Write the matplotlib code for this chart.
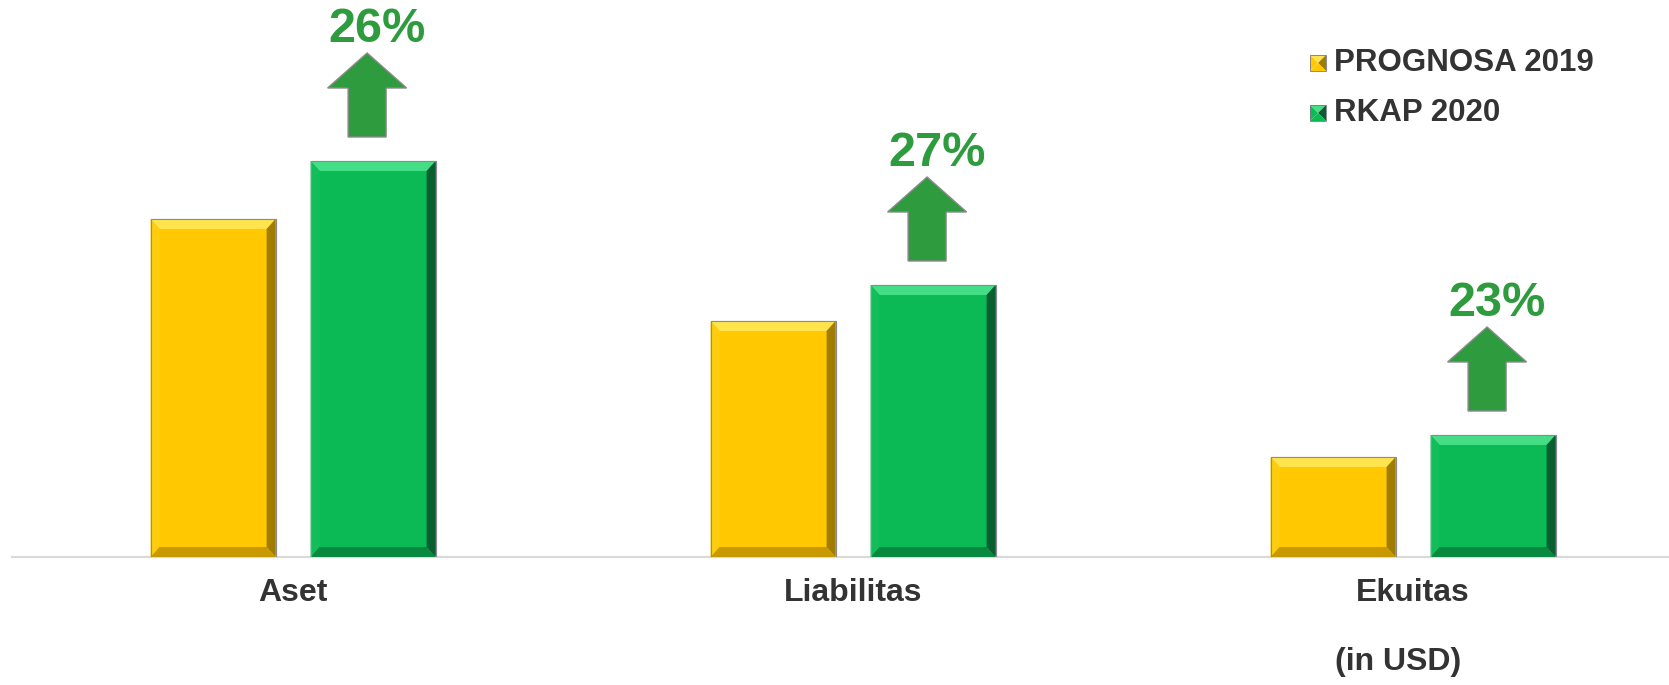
import numpy as np
import matplotlib.pyplot as plt
from matplotlib.patches import Polygon, Rectangle

categories = ['Aset', 'Liabilitas', 'Ekuitas']
series_names = ['PROGNOSA 2019', 'RKAP 2020']
prognosa_2019 = [338, 236, 100]
rkap_2020 = [396, 272, 122]
growth_labels = ['26%', '27%', '23%']

YELLOW = '#FFC800'
GREEN = '#0BBA55'
ARROW_GREEN = '#2E9B3F'
TEXT = '#333333'

plt.rcParams['font.family'] = ['Liberation Sans', 'DejaVu Sans']

W, H = 1669, 685
fig = plt.figure(figsize=(W / 100, H / 100), dpi=100)
ax = fig.add_axes((12 / W, 1 - 557 / H, (W - 12) / W, 557 / H))

x = np.arange(len(categories))
bw = 125 / 560
off = 80 / 560

bars1 = ax.bar(x - off, prognosa_2019, bw, color=YELLOW, edgecolor='#8c8c8c', linewidth=0.8, zorder=2)
bars2 = ax.bar(x + off, rkap_2020, bw, color=GREEN, edgecolor='#8c8c8c', linewidth=0.8, zorder=2)

# fake the bevelled look with four trapezoids per bar
bx, by = 9 / 560, 10
shades = {YELLOW: ('#FFE44D', '#FFCD0D', '#A07C00', '#C89A00'),
          GREEN: ('#44DE86', '#10BE5A', '#0A5F30', '#07893F')}
for bars, col in ((bars1, YELLOW), (bars2, GREEN)):
    top_c, left_c, right_c, bot_c = shades[col]
    for b in bars:
        x0, w, h = b.get_x(), b.get_width(), b.get_height()
        x1 = x0 + w
        faces = [
            ([(x0, h), (x1, h), (x1 - bx, h - by), (x0 + bx, h - by)], top_c),
            ([(x0, h), (x0 + bx, h - by), (x0 + bx, by), (x0, 0)], left_c),
            ([(x1, h), (x1, 0), (x1 - bx, by), (x1 - bx, h - by)], right_c),
            ([(x0, 0), (x1, 0), (x1 - bx, by), (x0 + bx, by)], bot_c),
        ]
        for pts, c in faces:
            ax.add_patch(Polygon(pts, closed=True, facecolor=c, edgecolor='none', zorder=3))
        ax.add_patch(Rectangle((x0, 0), w, h, fill=False, edgecolor='#8c8c8c', linewidth=0.8, zorder=4))

# growth arrows and percentages above the RKAP bars
for xi, v, lab in zip(x + off, rkap_2020, growth_labels):
    ax.arrow(xi - 6 / 560, v + 24, 0, 84, width=38 / 560, head_width=79 / 560, head_length=35,
             length_includes_head=True, facecolor=ARROW_GREEN, edgecolor='#8a8a8a', linewidth=1, zorder=3)
    ax.text(xi + 4 / 560, v + 131, lab, ha='center', va='center', fontsize=35,
            fontweight='bold', color=ARROW_GREEN)

for xi, name in zip(x, categories):
    ax.text(xi, -36, name, ha='center', va='center', fontsize=23, fontweight='bold', color=TEXT)

ax.set_xlim(-0.502, 2.457)
ax.set_ylim(0, 557)
ax.set_xticks([])
ax.set_yticks([])
for s in ('top', 'right', 'left'):
    ax.spines[s].set_visible(False)
ax.spines['bottom'].set_color('#d9d9d9')
ax.spines['bottom'].set_linewidth(1.5)

# legend, placed by hand (small bevelled squares like the bars)
legend_shades = [('#FFE44D', '#A07C00'), ('#44DE86', '#0A5F30')]
for i, (name, col) in enumerate(zip(series_names, [YELLOW, GREEN])):
    yc = 63 + i * 50
    lx0, ly0, s = 1310, yc - 8, 16
    hi, lo = legend_shades[i]
    tri = [
        ([(lx0, ly0), (lx0 + s, ly0), (lx0 + s / 2, ly0 + s / 2)], hi),
        ([(lx0 + s, ly0), (lx0 + s, ly0 + s), (lx0 + s / 2, ly0 + s / 2)], lo),
        ([(lx0, ly0 + s), (lx0 + s, ly0 + s), (lx0 + s / 2, ly0 + s / 2)], col),
        ([(lx0, ly0), (lx0, ly0 + s), (lx0 + s / 2, ly0 + s / 2)], col),
    ]
    for pts, c in tri:
        fig.patches.append(Polygon([(px / W, 1 - py / H) for px, py in pts], closed=True,
                                   transform=fig.transFigure, facecolor=c, edgecolor='none'))
    fig.patches.append(Rectangle((lx0 / W, 1 - (ly0 + s) / H), s / W, s / H, transform=fig.transFigure,
                                 fill=False, edgecolor='#7a7a7a', linewidth=0.6))
    fig.text(1334 / W, 1 - yc / H, name, ha='left', va='center', fontsize=22.5,
             fontweight='bold', color=TEXT)

fig.text(1398 / W, 1 - 662 / H, '(in USD)', ha='center', va='center', fontsize=23,
         fontweight='bold', color=TEXT)

fig.savefig('out.png', dpi=100)
